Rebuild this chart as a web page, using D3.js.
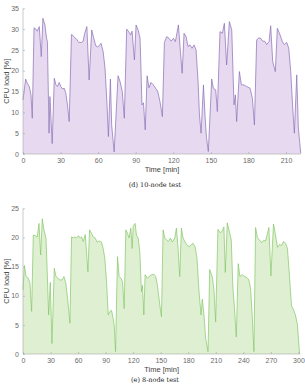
<!DOCTYPE html>
<html><head><meta charset="utf-8">
<script src="https://cdn.jsdelivr.net/npm/d3@7"></script>
<style>
html,body{margin:0;padding:0;background:#fff;}
svg{display:block;}
text{font-family:"Liberation Sans",Arial,sans-serif;}
</style></head>
<body>
<svg id="c" width="305" height="388"></svg>
<script>
// ---- data ----
const time10 = [0,2.1,3.4,5,6.4,7.4,8.8,10.3,11.4,13,14.6,15.9,17.5,18.8,19.5,20.8,21.5,23.3,25,26.3,27.6,28.9,30.2,31.6,32.9,34.2,35.5,36.9,38.7,40,41.4,42.7,44.6,46.7,48,49.3,51,52.8,54.9,56.5,58.1,59.7,61.3,62.3,64,65.5,67.1,68.2,69.8,70.8,72.8,75.9,77.5,79.3,80.9,82.8,84.4,86,87.1,89,90.3,91.9,93.5,95,96.2,97.6,99.1,100.6,102.2,104.1,105.9,107.5,109.4,111.3,112.9,114.8,116.6,118.3,120.1,121.7,124.1,125.7,127.1,128.6,130.2,131.8,133.4,135,136.6,138.2,139.8,140.9,142.2,144.1,145.4,146.5,148,150.7,152,153.9,155.2,157.3,159.2,160.8,162.6,164.8,166.7,168.5,169.6,170.6,172.8,174.4,176.5,178.6,181.3,183.2,184.8,186.6,188.2,189.8,191.4,193,194.6,196.5,197.8,199.4,201.5,203.1,205.3,207.1,208.7,210.6,212.2,213.8,215.4,216.7,218.6,219.9,221.8];
const load10 = [13,18,17,16.2,14.2,8.6,30.3,30,29.5,30.6,23.4,32.6,31,27.8,27,5,13.8,2.5,18.2,16.6,16.2,17.2,16.2,15.6,15.8,14.6,11.8,7.8,28.7,28.4,28,27.6,26.8,26.8,27.1,29,30.6,17.8,29.8,27.8,26,25.7,26.2,26.6,24.6,20.6,11.8,4.2,18,7,0.5,18.8,17.4,15,8.6,30,29.4,28.6,29.5,22.6,31,29.8,27.8,11.8,12.3,5.8,18.8,15.9,17.2,16.6,15.8,15.1,12.6,9,26.8,28.2,27.8,27.1,27.8,27,31,24.6,19.4,29,28.2,25.8,26.2,25.4,26.2,25,17.4,9.4,5,16.6,9,4,0.6,18,15.8,15.4,10.2,29.4,29,31.4,21.4,31.8,29.8,11.8,14.2,7.8,19.8,16.6,16.6,16.2,15.8,13.4,7,27.4,27.9,27.8,27.1,27.1,26.3,27,30.8,22.2,19.8,30.2,28.6,27,26.3,26.8,25.4,19.8,11,5,19,6.2,0.2];

const time8 = [0,1.5,3.3,5.8,7.6,9.4,11.2,13.4,15.6,17.4,19.2,21,22.8,25,26.4,27.9,29.7,31.5,34.1,35.9,38,40.2,42.4,44.6,46.7,49.3,51.1,52.9,54.7,56.5,58.3,60.5,62.3,63.8,65.6,67.8,70.7,72.5,74.6,76.4,78.6,80.8,83,85.5,87.3,89.1,91,92.8,94.6,96.4,98.2,99.3,100.8,102.9,104.7,106.6,108.4,110.2,112,113.8,115.6,117.4,118.9,120,122.1,123.6,125.4,127.2,129,130.1,131.6,133,135.2,137.4,139.9,142.4,144.6,146.4,149,150.8,152.6,154.4,156.2,158.4,160.5,162.7,165.3,167.1,168.9,170.7,172.5,174.3,176.5,178.7,180.8,183,185.2,187.4,189.5,191.7,193.9,195.3,197.1,198.9,201.5,203.3,206.2,208,209.8,212.3,214.9,217,218.8,220.3,222.5,225,226.8,228.6,230.1,232.3,234.4,236.2,238.8,241.3,243.9,246,247.8,249.6,251.5,253.3,255.4,257.6,259.8,262,264.1,266,267.8,270,272.8,275,277.2,279.4,281.5,283.7,285.9,288,290.2,292.4,294.6,296.7,298.9,301.2];
const load8 = [11,15.2,13.3,13,12.1,7.3,20.4,20.3,20.1,22.4,17,23.2,21.3,19.9,14.1,6.7,12.3,1.8,14.7,13.3,13,12.7,12.7,13.3,12.1,8.4,5.3,20.1,19.9,20.1,19.9,20.3,19.9,20.1,19.3,20.5,14.1,21.3,20.7,20.1,19.9,19.2,19.4,19.2,18.1,16.4,12.4,6.7,7.3,7.5,6.1,5,0.4,16.7,13.3,13,12.4,7.8,21.3,20.7,19.9,21.6,18.1,21.9,22.4,20.4,19.9,17.6,10.7,11.8,6.7,13.6,13,13.3,13.6,13.7,13.3,11.8,8.4,6.4,21.3,19.9,19.6,19.3,19.9,19.2,19.9,21.6,18.1,13.3,21.6,19.9,19.2,18.7,18.4,18.7,19,18.4,16.4,10.7,6.7,9.4,6.7,2.7,0.4,14.5,13.2,11,5.5,21.4,20.8,21.1,21.8,14,22.5,20.8,19.6,11.3,8.4,2.9,15.5,13.3,13.6,13.3,13.1,12.7,11.3,6.7,0.4,21.7,19.9,19.6,19.1,19.5,19.4,20.5,21.7,13.4,22.3,20.4,18.3,18.8,18.6,19.3,19,18.1,13.4,8.3,7.6,6.7,5,0];

const xTicks10 = [0,30,60,90,120,150,180,210];
const yTicks10 = [0,5,10,15,20,25,30,35];
const xTicks8 = [0,30,60,90,120,150,180,210,240,270,300];
const yTicks8 = [0,5,10,15,20,25];

const svg = d3.select("#c");

function panel(opt){
  const g = svg.append("g");
  const x = d3.scaleLinear().domain(opt.xdom).range([opt.x0, opt.x1]);
  const y = d3.scaleLinear().domain(opt.ydom).range([opt.y0, opt.y1]);
  const data = opt.t.map((t,i)=>({t, v: opt.v[i]}));
  g.append("path").datum(data)
    .attr("d", d3.area().x(d=>x(d.t)).y0(y(0)).y1(d=>y(d.v)))
    .attr("fill", opt.fill);
  g.append("path").datum(data)
    .attr("d", d3.line().x(d=>x(d.t)).y(d=>y(d.v)))
    .attr("fill","none").attr("stroke", opt.stroke).attr("stroke-width",0.7)
    .attr("stroke-linejoin","round");

  const ax = g.append("g").attr("transform",`translate(0,${opt.y0})`)
    .call(d3.axisBottom(x).tickValues(opt.xt).tickSize(-2).tickPadding(4).tickFormat(d3.format("d")));
  const ay = g.append("g").attr("transform",`translate(${opt.x0},0)`)
    .call(d3.axisLeft(y).tickValues(opt.yt).tickSize(-2).tickPadding(4).tickFormat(d3.format("d")));
  [ax,ay].forEach(a=>{
    a.select(".domain").attr("stroke","#a8a8a8").attr("stroke-width",0.6);
    a.selectAll(".tick line").attr("stroke","#a8a8a8").attr("stroke-width",0.6);
    a.selectAll(".tick text").attr("fill","#6a6a6a").style("font-size","7px").style("font-family","'Liberation Sans',Arial,sans-serif");
  });
  ax.select(".domain").attr("d",`M${opt.x0},0H${opt.x1}`);
  ay.select(".domain").attr("d",`M0,${opt.y0}V${opt.y1}`);

  g.append("text").attr("x", (opt.x0+opt.x1)/2).attr("y", opt.y0+18)
    .attr("text-anchor","middle").attr("fill","#444").style("font-size","7.5px").text("Time [min]");
  g.append("text").attr("transform",`translate(9,${(opt.y0+opt.y1)/2}) rotate(-90)`)
    .attr("text-anchor","middle").attr("fill","#444").style("font-size","7.5px").text("CPU load [%]");
  g.append("text").attr("x",155).attr("y",opt.capY).attr("text-anchor","middle")
    .attr("fill","#222").style("font-family","'DejaVu Serif','Liberation Serif',serif").style("font-size","6.5px").text(opt.caption);
}

panel({t:time10, v:load10, xdom:[0,222], ydom:[0,35], x0:23, x1:301, y0:154, y1:8.3,
  xt:xTicks10, yt:yTicks10, fill:"#e6d9f0", stroke:"#8a6db5", caption:"(d) 10-node test", capY:187});
panel({t:time8, v:load8, xdom:[0,302], ydom:[0,25], x0:23, x1:300.3, y0:354, y1:208.3,
  xt:xTicks8, yt:yTicks8, fill:"#def0d1", stroke:"#84c665", caption:"(e) 8-node test", capY:382});
</script>
</body></html>
